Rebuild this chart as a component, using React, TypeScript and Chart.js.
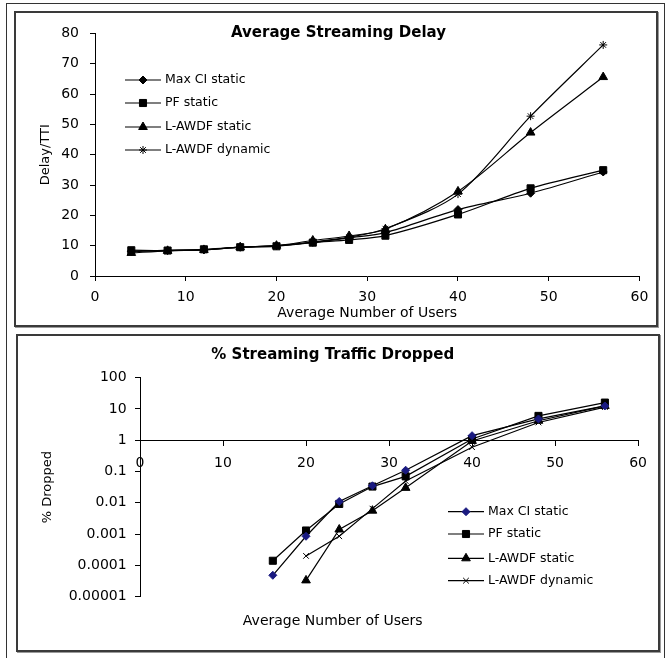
import React, { useEffect, useRef } from "react";
import { Chart, registerables } from "chart.js";
import { drawPoint } from "chart.js/helpers";

Chart.register(...registerables);

const FONT = '"DejaVu Sans", "Liberation Sans", sans-serif';

// ---- Top chart: Average Streaming Delay ----
const delayTitle = "Average Streaming Delay";
const delayUsers = [4, 8, 12, 16, 20, 24, 28, 32, 40, 48, 56];
const delayMaxCI = [8.2, 8.4, 8.6, 9.5, 10.0, 11.1, 12.6, 14.3, 21.9, 27.3, 34.3];
const delayPF = [8.5, 8.4, 8.8, 9.5, 9.8, 11.0, 11.9, 13.3, 20.3, 28.9, 34.9];
const delayLStatic = [7.6, 8.3, 8.6, 9.5, 10.0, 11.7, 13.2, 15.4, 27.9, 47.3, 65.6];
const delayLDynamic = [8.0, 8.5, 8.7, 9.5, 10.0, 11.2, 12.8, 15.6, 27.0, 52.7, 76.2];
const delayXRange = [0, 60];
const delayYRange = [0, 80];

// ---- Bottom chart: % Streaming Traffic Dropped ----
const dropTitle = "% Streaming Traffic Dropped";
const dropUsers = [16, 20, 24, 28, 32, 40, 48, 56];
const dropMaxCI = [0.000048, 0.00085, 0.011, 0.035, 0.11, 1.4, 4.8, 12.5];
const dropPF = [0.00014, 0.0013, 0.0092, 0.033, 0.07, 1.1, 6.0, 16];
const dropLStatic = [null, 0.000033, 0.0014, 0.0056, 0.03, 0.95, 4.2, 12.5];
const dropLDynamic = [null, 0.0002, 0.00085, 0.0065, 0.05, 0.6, 3.7, 11.5];
const dropTickValues = [0.00001, 0.0001, 0.001, 0.01, 0.1, 1, 10, 100];
const dropTickLabels = ["0.00001", "0.0001", "0.001", "0.01", "0.1", "1", "10", "100"];

const seriesNames = ["Max CI static", "PF static", "L-AWDF static", "L-AWDF dynamic"];
const xAxisTitle = "Average Number of Users";

function pts(xs: number[], ys: (number | null)[]) {
  return xs.map((x, i) => ({ x, y: ys[i] }));
}

function makeDecor(cfg: any) {
  return {
    id: "decor",
    afterDraw(chart: any) {
      const ctx = chart.ctx;
      ctx.save();
      if (cfg.title) {
        ctx.font = `bold 15px ${FONT}`;
        ctx.fillStyle = "#000";
        ctx.textAlign = "center";
        ctx.textBaseline = "middle";
        ctx.fillText(cfg.title, chart.width / 2 + (cfg.titleDx || 0), chart.chartArea.top + (cfg.titleDy || 0));
      }
      const lg = cfg.legend;
      chart.data.datasets.forEach((ds: any, i: number) => {
        const y = lg.rows[i];
        ctx.strokeStyle = "#000";
        ctx.lineWidth = 1.2;
        ctx.beginPath();
        ctx.moveTo(lg.x0, y);
        ctx.lineTo(lg.x1, y);
        ctx.stroke();
        ctx.fillStyle = ds.pointBackgroundColor;
        ctx.strokeStyle = ds.pointBorderColor;
        ctx.lineWidth = 1;
        drawPoint(ctx, { pointStyle: ds.pointStyle, radius: ds.pointRadius, rotation: 0, borderWidth: 1 } as any, (lg.x0 + lg.x1) / 2, y);
        ctx.fillStyle = "#000";
        ctx.font = `12.5px ${FONT}`;
        ctx.textAlign = "left";
        ctx.textBaseline = "middle";
        ctx.fillText(ds.label, lg.textX, y);
      });
      ctx.restore();
    },
  };
}

function series(label: string, data: any[], style: string, radius: number, color: string, tension: number) {
  return {
    label,
    data,
    borderColor: "#000",
    borderWidth: 1.2,
    backgroundColor: color,
    pointStyle: style,
    pointRadius: radius,
    pointBackgroundColor: color,
    pointBorderColor: color,
    pointBorderWidth: 1,
    tension,
    fill: false,
  };
}

const axisCommon = {
  grid: { display: true, drawOnChartArea: false, drawTicks: true, tickLength: 5, color: "#000", lineWidth: 1 },
  border: { display: true, color: "#000", width: 1 },
};

export default function App() {
  const topRef = useRef<HTMLCanvasElement>(null);
  const botRef = useRef<HTMLCanvasElement>(null);

  useEffect(() => {
    document.body.style.margin = "0";
    const tickFont = { family: FONT, size: 14 };

    const top = new Chart(topRef.current!, {
      type: "line",
      data: {
        datasets: [
          series(seriesNames[0], pts(delayUsers, delayMaxCI), "rectRot", 4, "#000", 0.3),
          series(seriesNames[1], pts(delayUsers, delayPF), "rect", 5, "#000", 0.3),
          series(seriesNames[2], pts(delayUsers, delayLStatic), "triangle", 5, "#000", 0.3),
          series(seriesNames[3], pts(delayUsers, delayLDynamic), "star", 4, "#000", 0.3),
        ] as any,
      },
      options: {
        animation: false,
        responsive: true,
        maintainAspectRatio: false,
        layout: { padding: { top: 15, right: 11, left: 0, bottom: 0 } },
        plugins: { legend: { display: false }, title: { display: false }, tooltip: { enabled: false } },
        scales: {
          x: {
            type: "linear",
            min: delayXRange[0],
            max: delayXRange[1],
            ...axisCommon,
            ticks: { stepSize: 10, font: tickFont, color: "#000", padding: 7.6, autoSkip: false, maxRotation: 0 },
            title: { display: true, text: xAxisTitle, font: { family: FONT, size: 14 }, color: "#000", padding: { top: 0, bottom: 3.6 } },
            afterFit: (s: any) => { s.height = 49; },
          },
          y: {
            type: "linear",
            min: delayYRange[0],
            max: delayYRange[1],
            ...axisCommon,
            ticks: { stepSize: 10, font: tickFont, color: "#000", padding: 11 },
            title: { display: true, text: "Delay/TTI", font: { family: FONT, size: 13 }, color: "#000", padding: { top: 21, bottom: 0 } },
            afterFit: (s: any) => { s.width = 78; },
          },
        },
      } as any,
      plugins: [makeDecor({ title: delayTitle, titleDx: 2, legend: { x0: 108, x1: 144, textX: 148, rows: [66, 89, 113, 136] } })],
    });

    const bot = new Chart(botRef.current!, {
      type: "line",
      data: {
        datasets: [
          series(seriesNames[0], pts(dropUsers, dropMaxCI), "rectRot", 4, "#1a1a80", 0),
          series(seriesNames[1], pts(dropUsers, dropPF), "rect", 5, "#000", 0),
          series(seriesNames[2], pts(dropUsers, dropLStatic), "triangle", 5, "#000", 0),
          series(seriesNames[3], pts(dropUsers, dropLDynamic), "crossRot", 4, "#000", 0),
        ] as any,
      },
      options: {
        animation: false,
        responsive: true,
        maintainAspectRatio: false,
        layout: { padding: { top: 0, right: 10.5, left: 0, bottom: 19 } },
        plugins: {
          legend: { display: false },
          tooltip: { enabled: false },
          title: { display: true, text: dropTitle, font: { family: FONT, size: 15, weight: "bold" }, color: "#000", padding: { top: 9, bottom: 13.7 } },
          subtitle: { display: true, position: "bottom", text: xAxisTitle, font: { family: FONT, size: 14 }, color: "#000", padding: { top: 16.6, bottom: 0 } },
        },
        scales: {
          x: {
            type: "linear",
            position: { y: 1 },
            min: 0,
            max: 60,
            ...axisCommon,
            ticks: { stepSize: 10, font: tickFont, color: "#000", padding: 10, autoSkip: false, maxRotation: 0 },
          },
          y: {
            type: "logarithmic",
            min: dropTickValues[0],
            max: dropTickValues[dropTickValues.length - 1],
            ...axisCommon,
            afterBuildTicks: (s: any) => { s.ticks = dropTickValues.map((v) => ({ value: v })); },
            ticks: { font: tickFont, color: "#000", padding: 8.4, autoSkip: false, callback: (_v: any, i: number) => dropTickLabels[i] },
            title: { display: true, text: "% Dropped", font: { family: FONT, size: 13 }, color: "#000", padding: { top: 21, bottom: 0 } },
            afterFit: (s: any) => { s.width = 121; },
          },
        },
      } as any,
      plugins: [makeDecor({ legend: { x0: 429, x1: 465, textX: 469, rows: [174.7, 197, 221.3, 243.7] } })],
    });

    return () => { top.destroy(); bot.destroy(); };
  }, []);

  const box = (l: number, t: number, w: number, h: number): React.CSSProperties => ({
    position: "absolute", left: l, top: t, width: w, height: h, boxSizing: "border-box",
    border: "2px solid #3a3a3a", boxShadow: "1px 1px 0 #9a9a9a",
  });

  return (
    <div style={{ position: "relative", width: 666, height: 658, background: "#fff", overflow: "hidden" }}>
      <div style={{ position: "absolute", left: 6, top: 3, width: 659, height: 680, boxSizing: "border-box", border: "1.5px solid #333" }} />
      <div style={box(14, 11, 644, 316)} />
      <div style={box(16, 334, 644, 318)} />
      <div style={{ position: "absolute", left: 17, top: 14, width: 639, height: 311 }}>
        <canvas ref={topRef} />
      </div>
      <div style={{ position: "absolute", left: 19, top: 337, width: 638, height: 312 }}>
        <canvas ref={botRef} />
      </div>
    </div>
  );
}
